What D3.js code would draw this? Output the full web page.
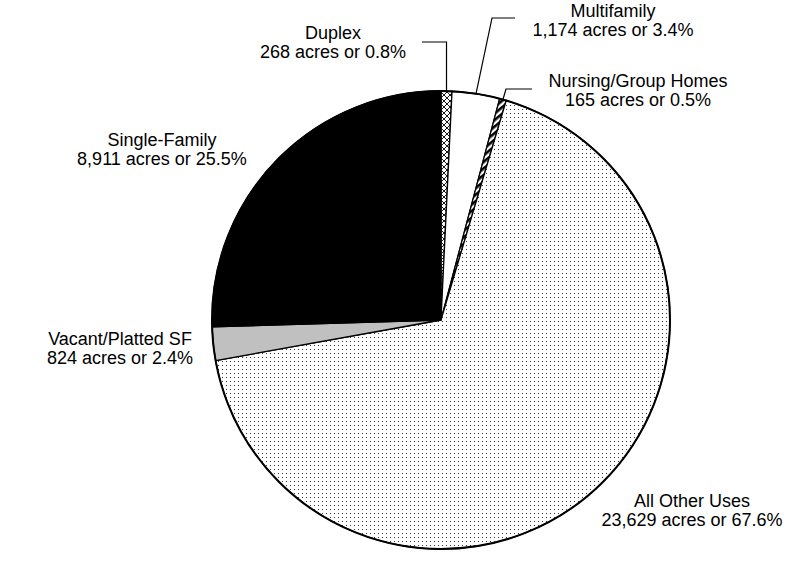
<!DOCTYPE html>
<html>
<head>
<meta charset="utf-8">
<script src="https://cdn.jsdelivr.net/npm/d3@7"></script>
<style>
  html, body { margin: 0; padding: 0; background: #fff; }
  svg { display: block; }
  text { font-family: "Liberation Sans", Arial, sans-serif; font-size: 18px; fill: #000; }
</style>
</head>
<body>
<svg id="chart" width="798" height="562"></svg>
<script>
// ---- data ----
const categories = ["Duplex", "Multifamily", "Nursing/Group Homes", "All Other Uses", "Vacant/Platted SF", "Single-Family"];
const acres = [268, 1174, 165, 23629, 824, 8911];
const percentLabels = ["0.8%", "3.4%", "0.5%", "67.6%", "2.4%", "25.5%"];

// ---- layout / style ----
const W = 798, H = 562;
const cx = 441, cy = 320, R = 229;
const fills = ["url(#crosshatch)", "#ffffff", "url(#stripes)", "url(#dots)", "#c0c0c0", "#000000"];
const labelLayout = [
  { x: 333, y: 39, leader: [[null, 42], [422, 42]] },
  { x: 613, y: 17, leader: [[492, 18], [515, 18]] },
  { x: 638, y: 87, leader: [[506, 89], [532, 89]] },
  { x: 692, y: 507, leader: null },
  { x: 120, y: 345, leader: null },
  { x: 162, y: 146, leader: null }
];
const lineGap = 19;

const svg = d3.select("#chart");
const defs = svg.append("defs");

// dots pattern
const pd = defs.append("pattern").attr("id", "dots").attr("patternUnits", "userSpaceOnUse")
  .attr("width", 4).attr("height", 4);
pd.append("rect").attr("width", 4).attr("height", 4).attr("fill", "#fff");
pd.append("rect").attr("x", 1).attr("y", 1).attr("width", 1).attr("height", 1).attr("fill", "#333");

// crosshatch pattern
const pc = defs.append("pattern").attr("id", "crosshatch").attr("patternUnits", "userSpaceOnUse")
  .attr("width", 6).attr("height", 6);
pc.append("rect").attr("width", 6).attr("height", 6).attr("fill", "#fff");
pc.append("path").attr("d", "M0,0 L6,6 M6,0 L0,6").attr("stroke", "#000").attr("stroke-width", 0.9);

// bold diagonal stripes
const ps = defs.append("pattern").attr("id", "stripes").attr("patternUnits", "userSpaceOnUse")
  .attr("width", 5).attr("height", 5).attr("patternTransform", "rotate(-40)");
ps.append("rect").attr("width", 5).attr("height", 5).attr("fill", "#fff");
ps.append("rect").attr("x", 0).attr("y", 0).attr("width", 5).attr("height", 2.6).attr("fill", "#000");

const data = categories.map((c, i) => ({ name: c, value: acres[i], pct: percentLabels[i], i }));

const pie = d3.pie().value(d => d.value).sort(null).startAngle(0).endAngle(2 * Math.PI);
const arcs = pie(data);
const arc = d3.arc().innerRadius(0).outerRadius(R);

const g = svg.append("g").attr("transform", `translate(${cx},${cy})`);

g.selectAll("path.slice").data(arcs).join("path")
  .attr("class", "slice")
  .attr("d", arc)
  .attr("fill", d => fills[d.data.i])
  .attr("stroke", "#000")
  .attr("stroke-width", 1.3)
  .attr("stroke-linejoin", "round");

// outer rim
g.append("circle").attr("r", R).attr("fill", "none").attr("stroke", "#000").attr("stroke-width", 2);

// leaders
arcs.forEach(a => {
  const L = labelLayout[a.data.i];
  if (!L.leader) return;
  const mid = (a.startAngle + a.endAngle) / 2;
  const sx = cx + R * Math.sin(mid), sy = cy - R * Math.cos(mid);
  const pts = [[sx, sy]].concat(L.leader.map(p => [p[0] === null ? sx : p[0], p[1]]));
  svg.append("path")
    .attr("d", d3.line()(pts))
    .attr("fill", "none").attr("stroke", "#000").attr("stroke-width", 1.2);
});

// labels
const fmt = d3.format(",");
data.forEach(d => {
  const L = labelLayout[d.i];
  const t = svg.append("text").attr("text-anchor", "middle");
  t.append("tspan").attr("x", L.x).attr("y", L.y).text(d.name);
  t.append("tspan").attr("x", L.x).attr("y", L.y + lineGap).text(`${fmt(d.value)} acres or ${d.pct}`);
});
</script>
</body>
</html>
